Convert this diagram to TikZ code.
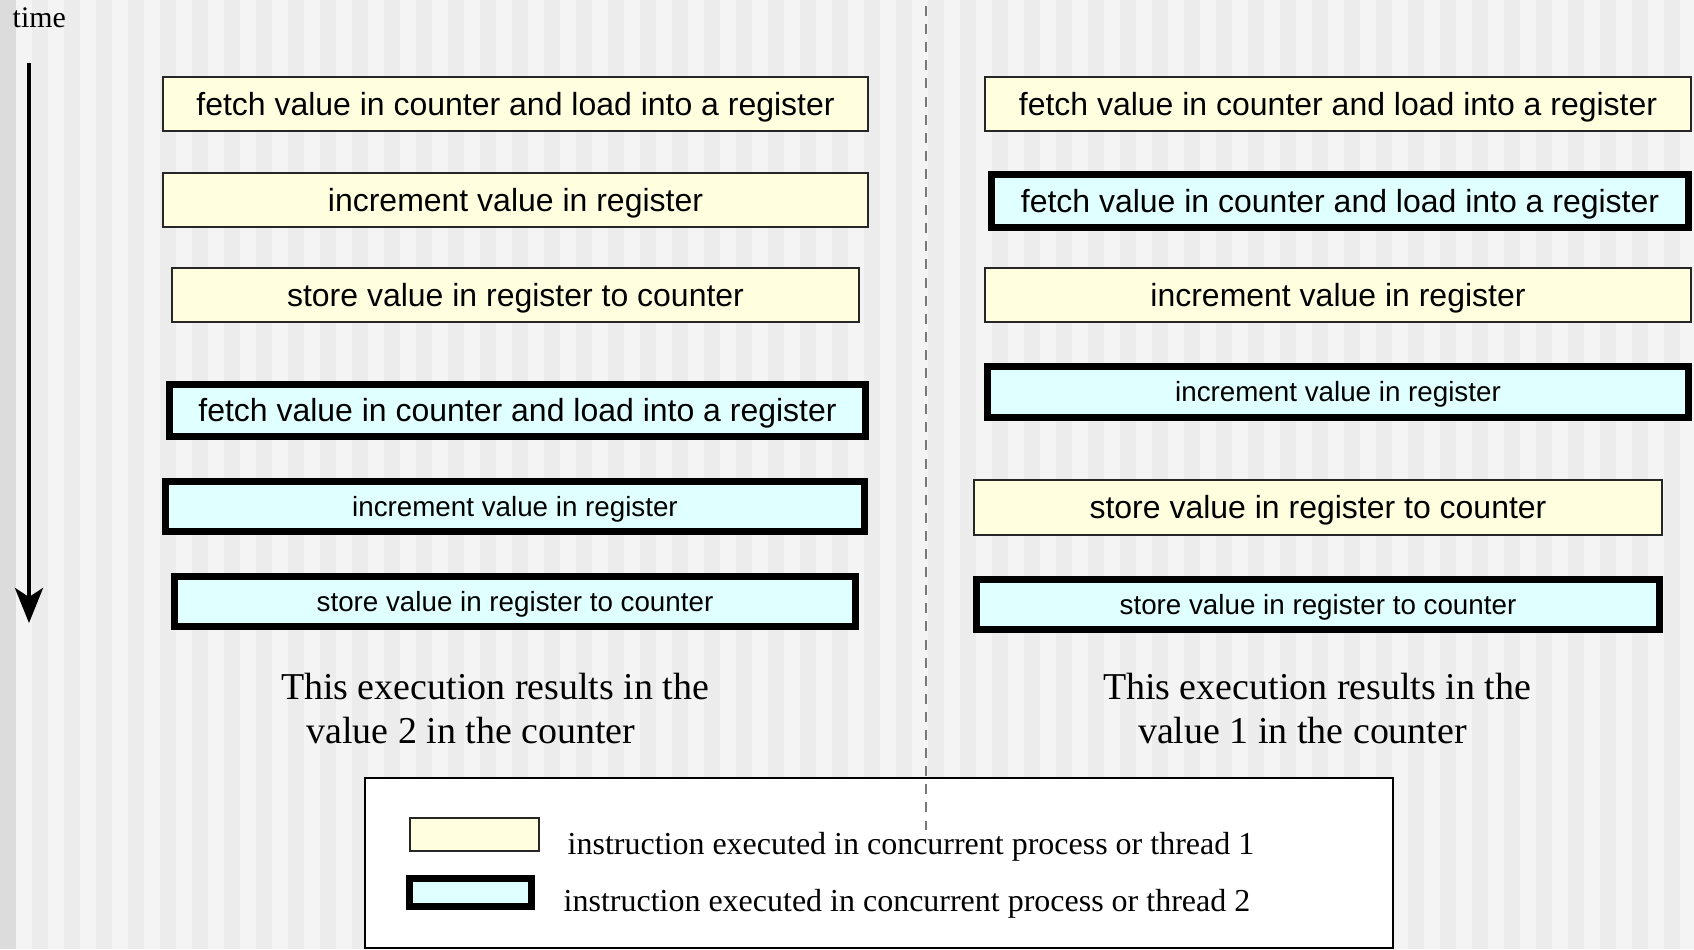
\documentclass[tikz,border=0pt]{standalone}
\usepackage{fontspec}
\setmainfont{Liberation Serif}
\newfontfamily\instrfont{Liberation Sans}
\usepackage{xcolor}
\usetikzlibrary{positioning, arrows.meta}
\definecolor{threadone}{RGB}{255,255,224}
\definecolor{threadtwo}{RGB}{224,255,255}
\definecolor{stripelight}{RGB}{244,244,244}
\definecolor{stripedark}{RGB}{236,236,236}
\definecolor{stripeedge}{RGB}{220,220,220}
\definecolor{dividercolor}{RGB}{120,120,120}

\begin{document}
\begin{tikzpicture}[
    throne/.style={rectangle, fill=threadone, draw=black!85, line width=0.57pt, inner sep=0pt,
        text height=6.5pt, text depth=0pt, font=\instrfont\fontsize{9.1}{11}\selectfont},
    thrtwo/.style={rectangle, fill=threadtwo, draw=black, line width=1.9pt, inner sep=0pt,
        text height=6.5pt, text depth=0pt, font=\instrfont\fontsize{9.1}{11}\selectfont},
    narrowtxt/.style={text height=5.6pt, font=\instrfont\fontsize{7.9}{10}\selectfont},
    result/.style={anchor=base, font=\fontsize{10.8}{13}\selectfont},
    legtext/.style={anchor=base west, inner sep=0pt, font=\fontsize{9.1}{11}\selectfont},
    arrow/.style={-{Stealth[length=3.5mm, width=2.8mm, inset=0.9mm]}, line width=1.15pt},
    divider/.style={dividercolor, line width=0.5pt, dash pattern=on 2.85pt off 2.3pt}
]
    \useasboundingbox (0,0) rectangle (16.94,-9.49);

    % === BACKGROUND STRIPES ===
    \fill[stripelight] (0,0) rectangle (16.94,-9.49);
    \fill[stripeedge] (0,0) rectangle (0.16,-9.49);
    \foreach \k in {1,...,52} {
        \fill[stripedark] (0.32*\k,0) rectangle (0.32*\k+0.16,-9.49);
    }

    % === TIME AXIS ===
    \node[anchor=base west, inner sep=0pt, font=\fontsize{8.5}{10}\selectfont] (timelbl) at (0.12,-0.27) {time};
    \coordinate (tstart) at (0.29,-0.63);
    \coordinate (tend) at (0.29,-6.23);
    \draw[arrow] (tstart) -- (tend);

    % === LEFT RUN : result 2 ===
    \node[throne, minimum width=7.05cm, minimum height=0.54cm] (la1) at (5.155,-1.04) {fetch value in counter and load into a register};
    \node[throne, minimum width=7.05cm, minimum height=0.54cm] (la2) at (5.155,-2.00) {increment value in register};
    \node[throne, minimum width=6.87cm, minimum height=0.54cm] (la3) at (5.155,-2.95) {store value in register to counter};
    \node[thrtwo, minimum width=6.96cm, minimum height=0.52cm] (la4) at (5.175,-4.105) {fetch value in counter and load into a register};
    \node[thrtwo, narrowtxt, minimum width=6.99cm, minimum height=0.50cm] (la5) at (5.15,-5.065) {increment value in register};
    \node[thrtwo, narrowtxt, minimum width=6.81cm, minimum height=0.50cm] (la6) at (5.15,-6.015) {store value in register to counter};

    \node[result] (lres1) at (4.95,-6.99) {This execution results in the};
    \node[result] (lres2) at (4.71,-7.43) {value 2 in the counter};

    % === RIGHT RUN : result 1 ===
    \node[throne, minimum width=7.06cm, minimum height=0.54cm] (rb1) at (13.38,-1.04) {fetch value in counter and load into a register};
    \node[thrtwo, minimum width=6.97cm, minimum height=0.53cm] (rb2) at (13.40,-2.01) {fetch value in counter and load into a register};
    \node[throne, minimum width=7.06cm, minimum height=0.54cm] (rb3) at (13.38,-2.95) {increment value in register};
    \node[thrtwo, narrowtxt, minimum width=7.01cm, minimum height=0.51cm] (rb4) at (13.38,-3.92) {increment value in register};
    \node[throne, minimum width=6.88cm, minimum height=0.55cm] (rb5) at (13.18,-5.07) {store value in register to counter};
    \node[thrtwo, narrowtxt, minimum width=6.83cm, minimum height=0.50cm] (rb6) at (13.18,-6.045) {store value in register to counter};

    \node[result] (rres1) at (13.17,-6.99) {This execution results in the};
    \node[result] (rres2) at (13.025,-7.43) {value 1 in the counter};

    % === LEGEND ===
    \node[rectangle, fill=white, draw=black, line width=0.6pt, minimum width=10.28cm, minimum height=1.70cm] (legend) at (8.79,-8.63) {};
    \node[throne, minimum width=1.29cm, minimum height=0.33cm] (keyone) at (4.745,-8.345) {};
    \node[thrtwo, minimum width=1.22cm, minimum height=0.28cm] (keytwo) at (4.705,-8.925) {};
    \node[legtext] (keyonetxt) at (5.67,-8.545) {instruction executed in concurrent process or thread 1};
    \node[legtext] (keytwotxt) at (5.63,-9.115) {instruction executed in concurrent process or thread 2};

    % === DIVIDER ===
    \coordinate (divtop) at (9.26,-0.06);
    \coordinate (divbot) at (9.26,-8.30);
    \draw[divider] (divtop) -- (divbot);

\end{tikzpicture}
\end{document}
